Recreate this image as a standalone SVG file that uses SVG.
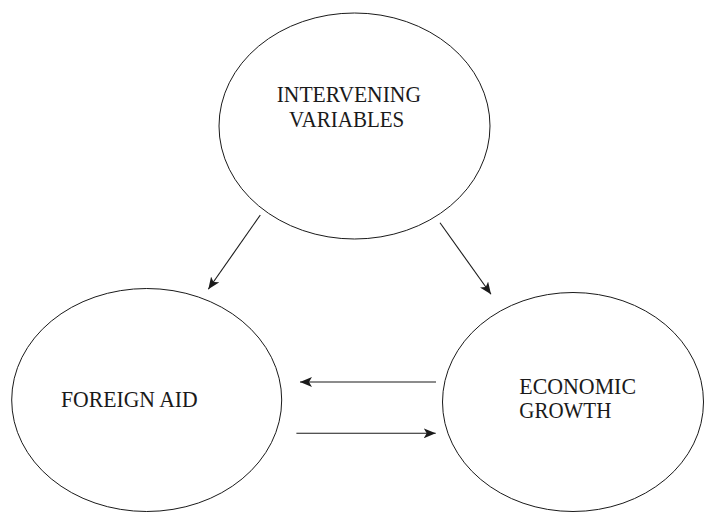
<svg xmlns="http://www.w3.org/2000/svg" width="704" height="512" viewBox="0 0 704 512">
<style>
.node ellipse{fill:none;stroke:#1a1a1a;stroke-width:1}
.lbl{font-family:"Liberation Serif","Times New Roman",serif;font-size:22.5px;fill:#1a1a1a}
.edge{stroke:#1a1a1a;stroke-width:1.1;fill:none;marker-end:url(#ah)}
</style>
<defs>
<marker id="ah" viewBox="0 0 12 10" refX="12" refY="5" markerWidth="12" markerHeight="10" markerUnits="userSpaceOnUse" orient="auto">
<path d="M0,0 L12,5 L0,10 L3,5 Z" fill="#1a1a1a"/>
</marker>
</defs>
<rect width="704" height="512" fill="#fff"/>
<g id="intervening" class="node">
<ellipse cx="354.5" cy="126" rx="135.5" ry="113"/>
<text class="lbl" x="276.7" y="102.3" textLength="144.3" lengthAdjust="spacingAndGlyphs">INTERVENING</text>
<text class="lbl" x="289" y="127.3" textLength="115.3" lengthAdjust="spacingAndGlyphs">VARIABLES</text>
</g>
<g id="foreign-aid" class="node">
<ellipse cx="146.7" cy="400" rx="135" ry="111.5"/>
<text class="lbl" x="61" y="406.7" textLength="136.7" lengthAdjust="spacingAndGlyphs">FOREIGN AID</text>
</g>
<g id="economic-growth" class="node">
<ellipse cx="573" cy="402" rx="130.5" ry="109.5"/>
<text class="lbl" x="519.3" y="394.3" textLength="116.7" lengthAdjust="spacingAndGlyphs">ECONOMIC</text>
<text class="lbl" x="519.3" y="418.3" textLength="92" lengthAdjust="spacingAndGlyphs">GROWTH</text>
</g>
<g id="connectors">
<line class="edge" x1="260.3" y1="215" x2="208.3" y2="289.3"/>
<line class="edge" x1="440" y1="222.7" x2="491" y2="294.3"/>
<line class="edge" x1="436" y1="382" x2="300" y2="382"/>
<line class="edge" x1="296.4" y1="433.3" x2="435.7" y2="433.3"/>
</g>
</svg>
